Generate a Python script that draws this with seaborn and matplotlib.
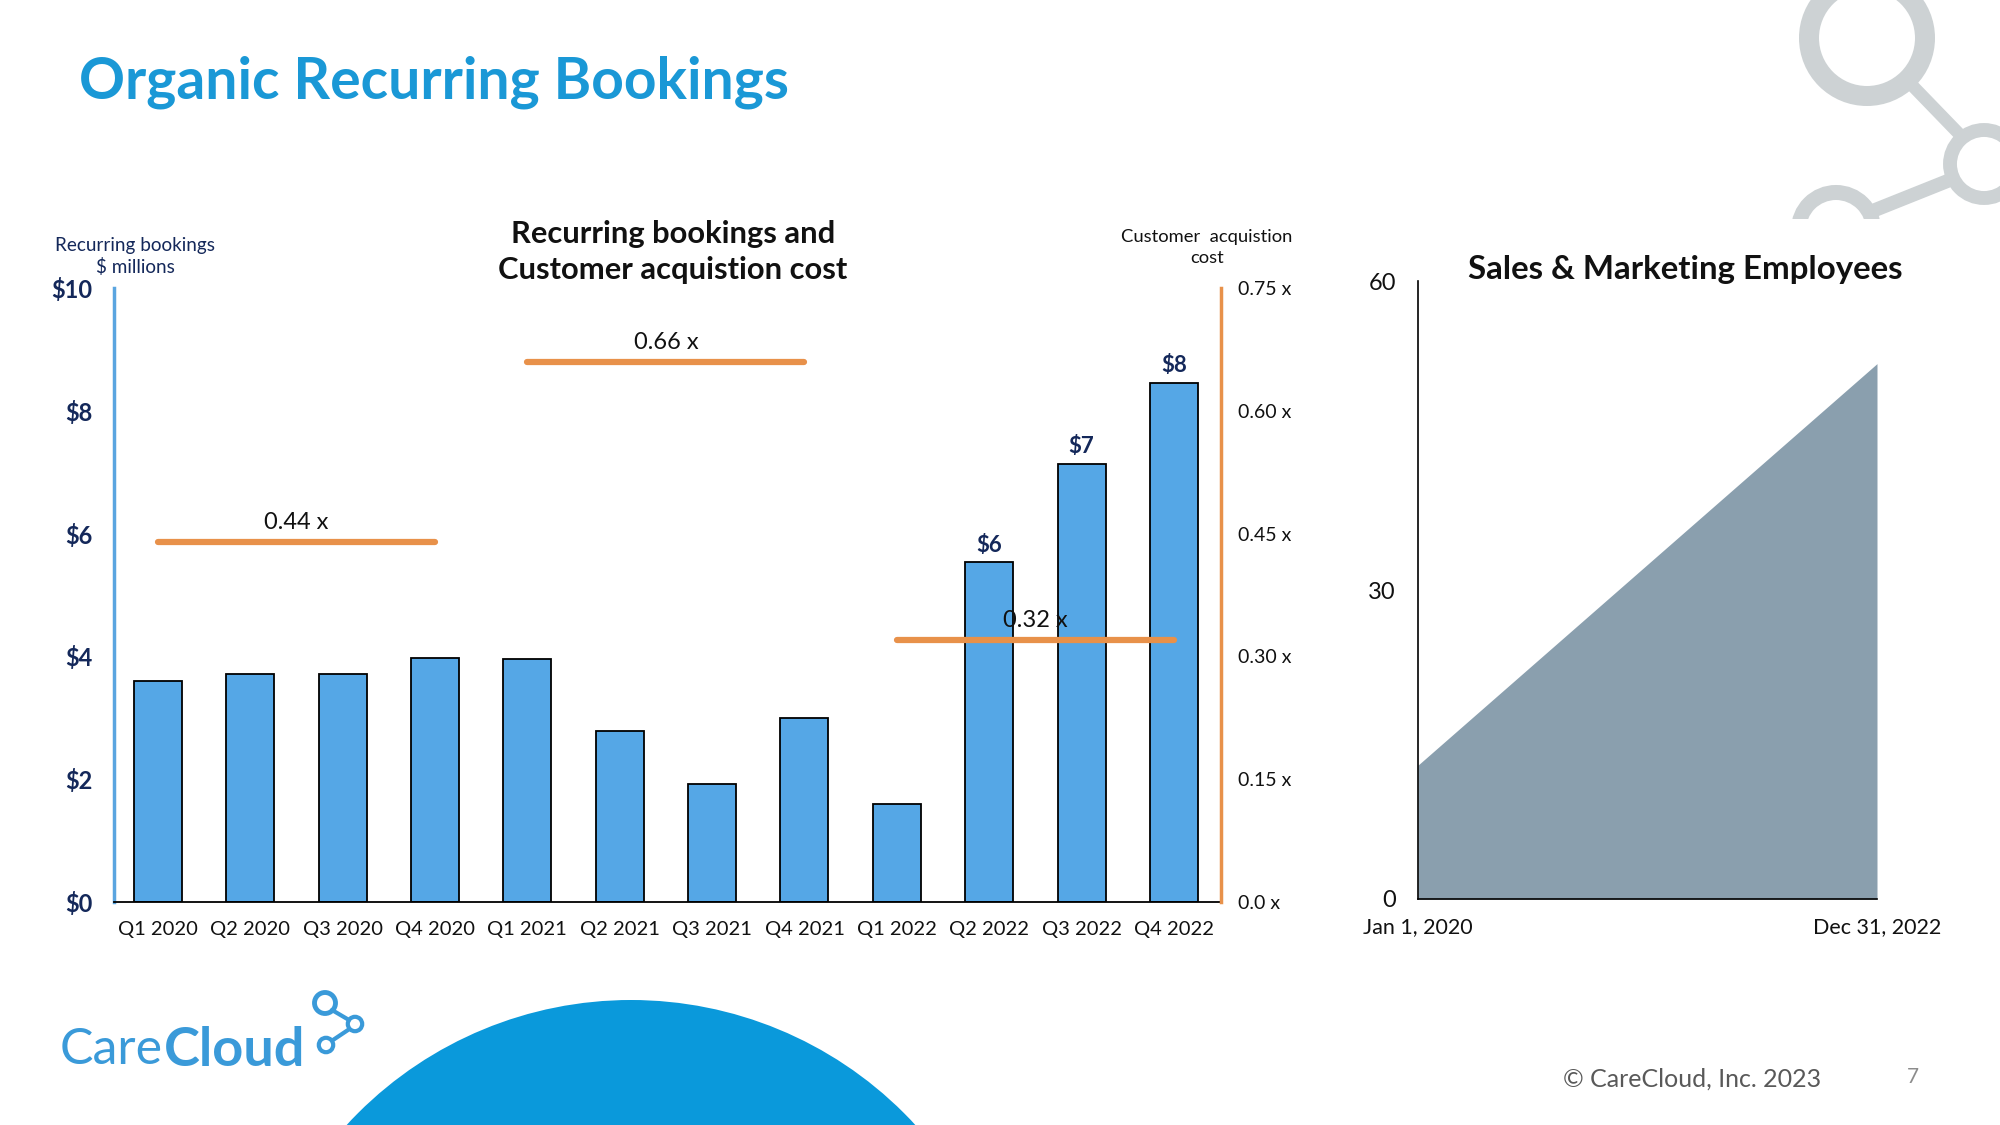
import pandas as pd
import numpy as np
import matplotlib.pyplot as plt
import matplotlib.patches as mpatches
import seaborn as sns

sns.set_theme(style="white")
plt.rcParams["font.family"] = ["Lato", "DejaVu Sans"]

# data
quarters = ["Q1 2020", "Q2 2020", "Q3 2020", "Q4 2020", "Q1 2021", "Q2 2021",
            "Q3 2021", "Q4 2021", "Q1 2022", "Q2 2022", "Q3 2022", "Q4 2022"]
bookings = [3.60, 3.72, 3.72, 3.97, 3.95, 2.79, 1.93, 2.99, 1.60, 5.53, 7.13, 8.46]
bar_labels = ["", "", "", "", "", "", "", "", "", "$6", "$7", "$8"]

cac_values = [0.44, 0.66, 0.32]
cac_start = [0, 4, 8]
cac_end = [3, 7, 11]
cac_labels = ["0.44 x", "0.66 x", "0.32 x"]

emp_dates = pd.to_datetime(["2020-01-01", "2022-12-31"])
emp_counts = [13, 52]

BLUE_BAR = "#55A7E6"
ORANGE = "#E8914A"
NAVY = "#14285A"
TITLE_BLUE = "#1A98D6"
GREY_AREA = "#8A9FAE"

fig = plt.figure(figsize=(20, 11.25), dpi=100)

# ---- left chart: bookings bars + CAC lines
ax = fig.add_axes([0.0568, 0.1982, 0.5537, 0.5458])
df = pd.DataFrame({"quarter": quarters, "bookings": bookings})
sns.barplot(data=df, x="quarter", y="bookings", color=BLUE_BAR, width=0.52,
            edgecolor="black", linewidth=1.3, saturation=1, ax=ax)
ax.set_xlim(-0.48, 11.51)
ax.set_ylim(0, 10)
ax.set_yticks(range(0, 11, 2))
ax.set_yticklabels([f"${v}" for v in range(0, 11, 2)], fontsize=17,
                   fontweight="bold", color=NAVY)
ax.tick_params(axis="y", length=0, pad=15)
ax.tick_params(axis="x", length=0, pad=14, labelsize=14.5, labelcolor="#111111")
ax.set_xlabel("")
ax.set_ylabel("")
for side in ["top", "right"]:
    ax.spines[side].set_visible(False)
ax.spines["left"].set_color("#5AA5E0")
ax.spines["left"].set_linewidth(2.5)
ax.spines["bottom"].set_color("black")
ax.spines["bottom"].set_linewidth(1.3)
for i, (v, lab) in enumerate(zip(bookings, bar_labels)):
    if lab:
        ax.text(i, v + 0.11, lab, ha="center", va="bottom", fontsize=16,
                fontweight="bold", color=NAVY)

ax2 = ax.twinx()
ax2.set_ylim(0, 0.75)
ax2.set_yticks([0, 0.15, 0.30, 0.45, 0.60, 0.75])
ax2.set_yticklabels(["0.0 x", "0.15 x", "0.30 x", "0.45 x", "0.60 x", "0.75 x"],
                    fontsize=14, color="#111111")
ax2.tick_params(axis="y", length=0, pad=12.5)
for side in ["top", "left", "bottom"]:
    ax2.spines[side].set_visible(False)
ax2.spines["right"].set_color(ORANGE)
ax2.spines["right"].set_linewidth(2.5)
for v, s, e, lab in zip(cac_values, cac_start, cac_end, cac_labels):
    ax2.plot([s, e], [v, v], color=ORANGE, linewidth=4.5, solid_capstyle="round")
    ax2.text((s + e) / 2, v + 0.011, lab, ha="center", va="bottom", fontsize=17,
             color="#111111")

fig.text(0.3365, 0.776, "Recurring bookings and\nCustomer acquistion cost",
         ha="center", va="center", fontsize=22.2, fontweight="bold",
         color="#111111", linespacing=1.32)
fig.text(0.0675, 0.772, "Recurring bookings\n$ millions", ha="center", va="center",
         fontsize=13.6, color=NAVY, linespacing=1.28)
fig.text(0.6035, 0.780, "Customer  acquistion\ncost", ha="center", va="center",
         fontsize=13.2, color="#111111", linespacing=1.32)

# ---- right chart: sales & marketing employees
bx = fig.add_axes([0.709, 0.2009, 0.2295, 0.5491])
edf = pd.DataFrame({"date": emp_dates, "employees": emp_counts})
sns.lineplot(data=edf, x="date", y="employees", color=GREY_AREA, linewidth=0, ax=bx)
bx.fill_between(edf["date"], edf["employees"], color=GREY_AREA, linewidth=0)
bx.set_xlim(emp_dates[0], emp_dates[1])
bx.set_ylim(0, 60)
bx.set_yticks([0, 30, 60])
bx.set_yticklabels(["0", "30", "60"], fontsize=17, color="#111111")
bx.set_xticks(emp_dates)
bx.set_xticklabels(["Jan 1, 2020", "Dec 31, 2022"], fontsize=15.5, color="#111111")
bx.tick_params(axis="y", length=0, pad=16)
bx.tick_params(axis="x", length=0, pad=13)
bx.set_xlabel("")
bx.set_ylabel("")
for side in ["top", "right"]:
    bx.spines[side].set_visible(False)
for side in ["left", "bottom"]:
    bx.spines[side].set_color("black")
    bx.spines[side].set_linewidth(1.2)
fig.text(0.8425, 0.760, "Sales & Marketing Employees", ha="center", va="center",
         fontsize=23.8, fontweight="bold", color="#111111")

# ---- slide decorations
fig.text(0.0395, 0.927, "Organic Recurring Bookings", ha="left", va="center",
         fontsize=41, fontweight="bold", color=TITLE_BLUE)
fig.text(0.846, 0.041, "\u00a9 CareCloud, Inc. 2023", ha="center", va="center",
         fontsize=18, color="#595959")
fig.text(0.9565, 0.0425, "7", ha="center", va="center", fontsize=15, color="#8c8c8c")

deco = fig.add_axes([0, 0, 1, 1], zorder=-1)
deco.set_xlim(0, 2000)
deco.set_ylim(1125, 0)
deco.axis("off")
deco.add_patch(mpatches.Circle((631, 1386), 386, color="#0A99DB", lw=0))

# grey network motif, top right (cut off at its bottom)
clip = mpatches.Rectangle((1600, 0), 400, 219, transform=deco.transData)
ring_col = "#CDD2D4"
for xs, ys, w in [([1905, 1965], [78, 140], 9), ([1950, 1865], [180, 214], 10)]:
    ln, = deco.plot(xs, ys, color=ring_col, lw=w, solid_capstyle="butt")
    ln.set_clip_path(clip)
for cx, cy, r, w in [(1867, 38, 58, 14.4), (1984, 164, 34, 10), (1836, 230, 37.5, 10.8)]:
    ring = mpatches.Circle((cx, cy), r, fill=False, ec=ring_col, lw=w)
    deco.add_patch(ring)
    ring.set_clip_path(clip)

# CareCloud logo
logo_col = "#3A9AD9"
t1 = deco.text(60, 1050, "Care", ha="left", va="center", fontsize=36,
               fontweight="normal", color=logo_col)
fig.canvas.draw()
bb = t1.get_window_extent(renderer=fig.canvas.get_renderer())
x_end = deco.transData.inverted().transform((bb.x1, bb.y0))[0]
deco.text(x_end + 1, 1050, "Cloud", ha="left", va="center", fontsize=39,
          fontweight="bold", color=logo_col)
deco.plot([332, 349], [1010, 1020], color=logo_col, lw=3)
deco.plot([348, 333], [1030, 1040], color=logo_col, lw=3)
deco.add_patch(mpatches.Circle((325, 1003), 10.5, fill=False, ec=logo_col, lw=3.5))
deco.add_patch(mpatches.Circle((355, 1024), 7.2, fill=False, ec=logo_col, lw=3))
deco.add_patch(mpatches.Circle((326, 1045), 7.2, fill=False, ec=logo_col, lw=3))

fig.savefig("out.png", dpi=100, facecolor="white")
